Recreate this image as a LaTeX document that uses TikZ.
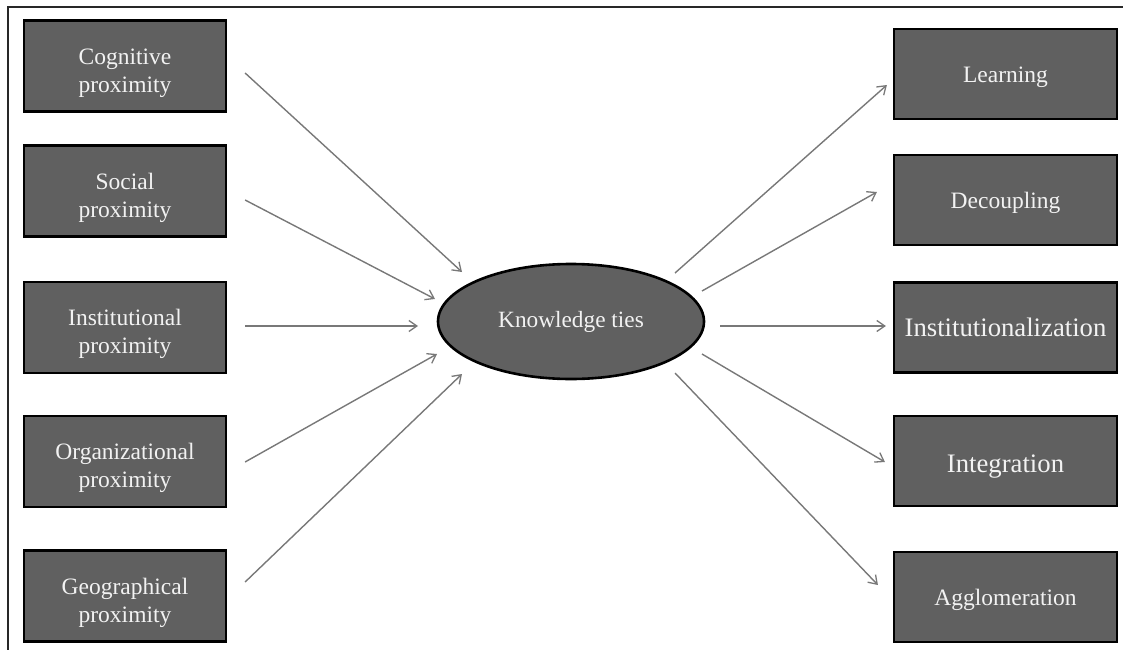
\documentclass[tikz,border=0pt]{standalone}
\usepackage{fontspec}
\setmainfont{Liberation Serif}
\usetikzlibrary{calc,arrows.meta,shapes.geometric}
\definecolor{boxgray}{RGB}{96,96,96}
\definecolor{txtwhite}{RGB}{242,242,242}
\definecolor{arrgray}{RGB}{120,120,120}
\definecolor{framegray}{RGB}{40,40,40}
\newcommand{\toplift}{\rule{0pt}{30pt}}
\newcommand{\smalllift}{\rule{0pt}{23pt}}
\newcommand{\biglift}{\rule{0pt}{29pt}}
\tikzset{
  basebox/.style={draw=black, line width=2.2pt, fill=boxgray, text=txtwhite, align=center, inner sep=2pt,
    font=\fontsize{23.5}{28}\selectfont},
  leftbox/.style={basebox, minimum width=202pt, minimum height=91pt},
  rightbox/.style={basebox, minimum width=223pt, minimum height=90pt},
  bigtext/.style={font=\fontsize{26.7}{30}\selectfont},
  hub/.style={ellipse, draw=black, line width=2.6pt, fill=boxgray, text=txtwhite, inner sep=0pt,
    minimum width=266pt, minimum height=115pt, font=\fontsize{23.3}{28}\selectfont},
  arr/.style={draw=arrgray, line width=1.4pt, -{Straight Barb[length=8pt,width=11pt,line width=1.3pt]}},
  framestyle/.style={draw=framegray, line width=1.6pt}
}
\begin{document}
\begin{tikzpicture}[x=1pt,y=-1pt]
\useasboundingbox (0,0) rectangle (1123,650);
\coordinate (ftop) at (1123,7);
\coordinate (fcorner) at (8,7);
\coordinate (fbot) at (8,650);
\draw[framestyle] (ftop) -- (fcorner) -- (fbot);

\node[leftbox] (cog) at (125,66) {\toplift Cognitive\\proximity};
\node[leftbox] (soc) at (125,191) {\toplift Social\\proximity};
\node[leftbox] (inst) at (125,327.5) {\toplift Institutional\\proximity};
\node[leftbox] (org) at (125,461.5) {\toplift Organizational\\proximity};
\node[leftbox] (geo) at (125,596) {\toplift Geographical\\proximity};

\node[hub] (kt) at (571,321.5) {Knowledge ties};

\node[rightbox] (learn) at (1005.5,74) {\smalllift Learning};
\node[rightbox] (dec) at (1005.5,200) {\smalllift Decoupling};
\node[rightbox, bigtext] (instz) at (1005.5,327.5) {Institutionalization};
\node[rightbox, bigtext] (integ) at (1005.5,461) {\biglift Integration};
\node[rightbox] (agg) at (1005.5,597) {\smalllift Agglomeration};

\draw[arr] ($(cog.east)+(18,7)$) -- ($(kt.center)+(-109,-49.5)$);
\draw[arr] ($(soc.east)+(18,9)$) -- ($(kt.center)+(-136,-22.5)$);
\draw[arr] ($(inst.east)+(18,-1.5)$) -- ($(kt.center)+(-153,4.5)$);
\draw[arr] ($(org.east)+(18,0.5)$) -- ($(kt.center)+(-134,32.5)$);
\draw[arr] ($(geo.east)+(18,-14)$) -- ($(kt.center)+(-109,52.5)$);

\draw[arr] ($(kt.center)+(104,-48.5)$) -- ($(learn.west)+(-6,11)$);
\draw[arr] ($(kt.center)+(131,-30.5)$) -- ($(dec.west)+(-16,-8)$);
\draw[arr] ($(kt.center)+(149,4.5)$) -- ($(instz.west)+(-7,-1.5)$);
\draw[arr] ($(kt.center)+(131,32.5)$) -- ($(integ.west)+(-8,1)$);
\draw[arr] ($(kt.center)+(104,51.5)$) -- ($(agg.west)+(-15,-12)$);
\end{tikzpicture}
\end{document}
